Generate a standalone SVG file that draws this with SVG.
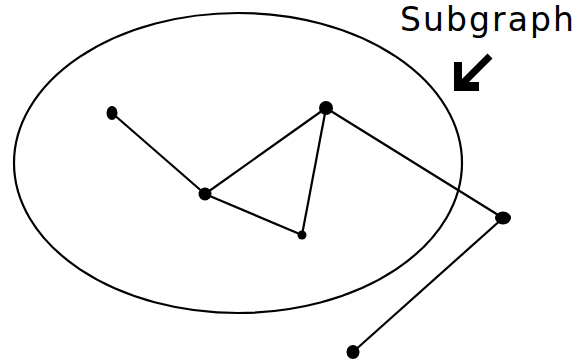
<svg xmlns="http://www.w3.org/2000/svg" width="580" height="363" viewBox="0 0 580 363">
<style>
.e{stroke:#000;stroke-width:2.2;fill:none}
.n{fill:#000}
.lbl{font-family:"DejaVu Sans","Liberation Sans",sans-serif;font-size:33px;fill:#000}
</style>
<rect width="580" height="363" fill="#fff"/>
<g id="subgraph">
<ellipse cx="238" cy="163" rx="224" ry="150" class="e"/>
<text class="lbl" x="400" y="31" textLength="174" lengthAdjust="spacing">Subgraph</text>
<path d="M490,56 L463,83" stroke="#000" stroke-width="7" fill="none"/>
<polygon points="454,62 462,62 462,82 479,82 479,91 454,91" fill="#000"/>
</g>
<g id="connectors">
<line class="e" x1="112" y1="113" x2="205" y2="194"/>
<line class="e" x1="205" y1="194" x2="326" y2="108"/>
<line class="e" x1="205" y1="194" x2="302" y2="235"/>
<line class="e" x1="326" y1="108" x2="302" y2="235"/>
<line class="e" x1="326" y1="108" x2="503" y2="218"/>
<line class="e" x1="503" y1="218" x2="353" y2="352"/>
</g>
<g id="nA"><ellipse class="n" cx="112" cy="113" rx="5.5" ry="7"/></g>
<g id="nB"><circle class="n" cx="205" cy="194" r="6.5"/></g>
<g id="nC"><circle class="n" cx="326" cy="108" r="7"/></g>
<g id="nD"><circle class="n" cx="302" cy="235" r="4.5"/></g>
<g id="nE"><ellipse class="n" cx="503" cy="218" rx="8" ry="6.5"/></g>
<g id="nF"><ellipse class="n" cx="353" cy="352" rx="6.5" ry="7"/></g>
</svg>
